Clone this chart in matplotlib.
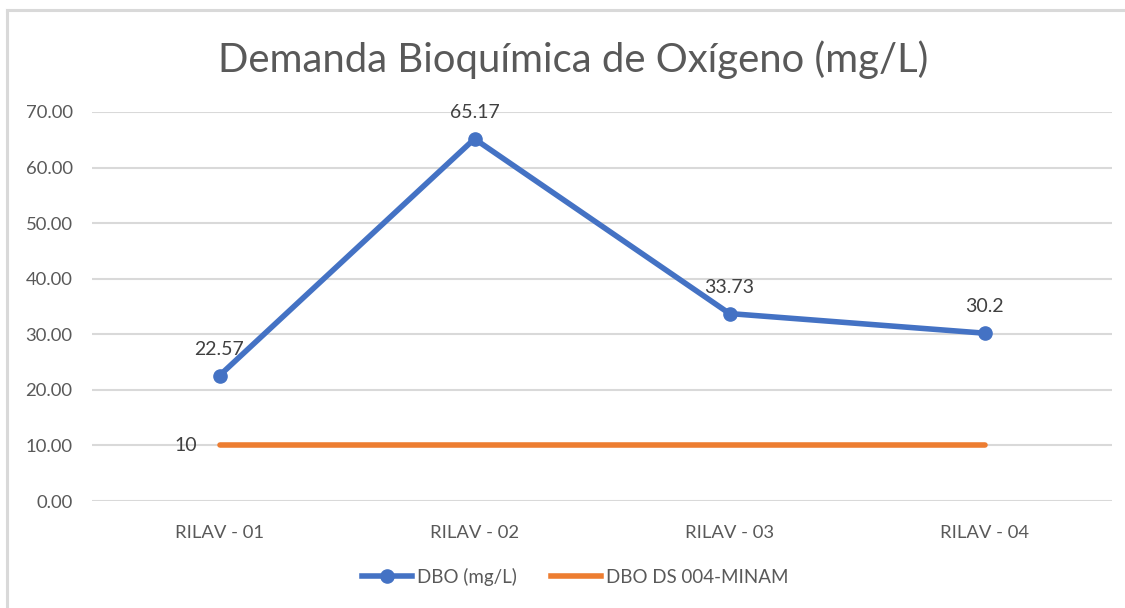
import matplotlib
matplotlib.use("Agg")
import matplotlib.pyplot as plt
from matplotlib.lines import Line2D

# Sampling points and measured values
stations = ["RILAV - 01", "RILAV - 02", "RILAV - 03", "RILAV - 04"]
dbo_values = [22.57, 65.17, 33.73, 30.2]
dbo_limit = [10, 10, 10, 10]
dbo_labels = ["22.57", "65.17", "33.73", "30.2"]
limit_label = "10"
y_ticks = [0, 10, 20, 30, 40, 50, 60, 70]

BLUE = "#4472C4"
ORANGE = "#ED7D31"
TEXT = "#595959"
LABEL = "#404040"
GRID = "#D9D9D9"

plt.rcParams["font.family"] = ["Lato", "DejaVu Sans"]

W, H = 1125, 608
fig = plt.figure(figsize=(W / 100, H / 100), dpi=100)
fig.patch.set_facecolor("white")

# Chart-area border (left and top edges visible)
fig.add_artist(Line2D([7 / W, 7 / W], [0, 1 - 10 / H], transform=fig.transFigure,
                      color=GRID, lw=2.2))
fig.add_artist(Line2D([7 / W, 1], [1 - 10 / H, 1 - 10 / H], transform=fig.transFigure,
                      color=GRID, lw=2.2))

ax = fig.add_axes([92 / W, 107 / H, (1112 - 92) / W, (501 - 112) / H])
x = list(range(len(stations)))

ax.set_xlim(-0.5, len(stations) - 0.5)
ax.set_ylim(0, 70)
ax.set_yticks(y_ticks)
ax.set_yticklabels([f"{v:.2f}" for v in y_ticks])
ax.set_xticks(x)
ax.set_xticklabels(stations)
ax.tick_params(axis="both", length=0, labelsize=13.3, colors=TEXT)
ax.tick_params(axis="y", pad=14)
ax.tick_params(axis="x", pad=17)
for s in ax.spines.values():
    s.set_visible(False)
ax.yaxis.grid(True, color=GRID, lw=1.5)
ax.set_axisbelow(True)

ax.plot(x, dbo_limit, color=ORANGE, lw=4, solid_capstyle="round", zorder=3,
        label="DBO DS 004-MINAM")
ax.plot(x, dbo_values, color=BLUE, lw=4, marker="o", markersize=9.5,
        solid_capstyle="round", solid_joinstyle="round", zorder=4,
        label="DBO (mg/L)")

for xi, yi, txt in zip(x, dbo_values, dbo_labels):
    ax.annotate(txt, (xi, yi), xytext=(0, 13), textcoords="offset points",
                ha="center", va="bottom", fontsize=14, color=LABEL, zorder=5)
ax.annotate(limit_label, (x[0], dbo_limit[0]), xytext=(-24, 0),
            textcoords="offset points", ha="center", va="center",
            fontsize=14, color=LABEL, zorder=5)

handles = [
    Line2D([], [], color=BLUE, lw=4, marker="o", markersize=9.5),
    Line2D([], [], color=ORANGE, lw=4),
]
fig.legend(handles, ["DBO (mg/L)", "DBO DS 004-MINAM"], loc="center",
           bbox_to_anchor=(575 / W, 1 - 577 / H), ncol=2, frameon=False,
           fontsize=13.5, labelcolor=TEXT, handlelength=2.7, handletextpad=0.25,
           columnspacing=1.8)

fig.text(573 / W, 1 - 60 / H, "Demanda Bioquímica de Oxígeno (mg/L)",
         ha="center", va="center", fontsize=28.8, color=TEXT)

fig.savefig("out.png", dpi=100, facecolor="white")
